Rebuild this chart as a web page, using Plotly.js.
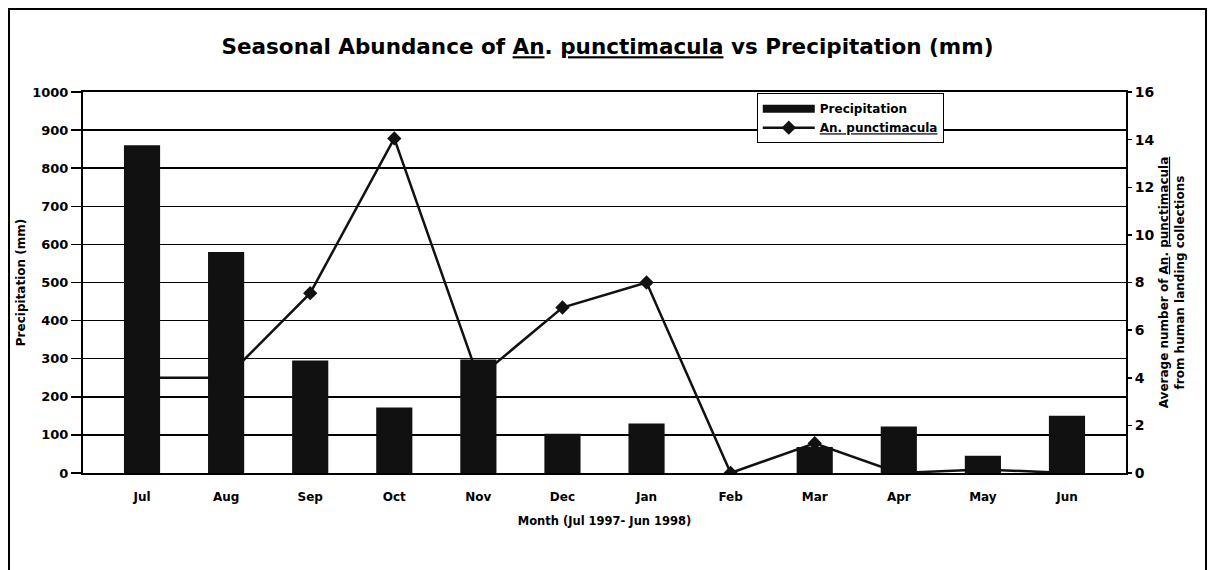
<!DOCTYPE html>
<html><head><meta charset="utf-8">
<script src="https://cdn.plot.ly/plotly-3.0.1.min.js"></script>
<style>
html,body{margin:0;padding:0;background:#fff;overflow:hidden;}
#frame{position:absolute;left:8px;top:8px;width:1199px;height:620px;border:2px solid #000;box-sizing:border-box;pointer-events:none;z-index:5;}
#chart{position:absolute;left:0;top:0;width:1215px;height:570px;}
</style></head>
<body>
<div id="chart"></div>
<div id="frame"></div>
<script>
const months = ["Jul","Aug","Sep","Oct","Nov","Dec","Jan","Feb","Mar","Apr","May","Jun"];
const precipitation = [860, 580, 295, 172, 298, 103, 130, 0, 68, 122, 45, 150];
const punctimacula = [4, 4, 7.55, 14.05, 4, 6.95, 8, 0, 1.25, 0, 0.15, 0];

const fontFam = '"DejaVu Sans", Verdana, sans-serif';

const lineTrace = {
  x: months, y: punctimacula, type: 'scatter', mode: 'lines+markers',
  name: '<u>An. punctimacula</u>', yaxis: 'y',
  line: {color: '#111', width: 2.5},
  marker: {symbol: 'diamond', size: 11, color: '#111'}
};
const barTrace = {
  x: months, y: precipitation, type: 'bar', name: 'Precipitation',
  yaxis: 'y2', marker: {color: '#111', line: {width: 0}}, width: 0.43,
  showlegend: false
};
// legend-only entry to mimic the wide filled swatch
const barLegend = {
  x: [null], y: [null], type: 'scatter', mode: 'lines', name: 'Precipitation',
  yaxis: 'y2', line: {color: '#111', width: 8}
};

const layout = {
  width: 1215, height: 570,
  margin: {l: 83, r: 89, t: 92, b: 97},
  paper_bgcolor: '#fff', plot_bgcolor: '#fff',
  font: {family: fontFam, color: '#000', size: 12, weight: 'bold'},
  title: {text: 'Seasonal Abundance of <u>An</u>. <u>punctimacula</u> vs Precipitation (mm)',
          font: {family: fontFam, size: 21.5, weight: 'bold', color: '#000'},
          x: 0.5, xanchor: 'center', y: 0.918, yanchor: 'middle'},
  showlegend: true,
  legend: {x: 0.646, y: 0.997, xanchor: 'left', yanchor: 'top', bgcolor: '#fff',
           bordercolor: '#000', borderwidth: 1, traceorder: 'normal', itemwidth: 52,
           font: {family: fontFam, size: 12, color: '#000', weight: 'bold'}, tracegroupgap: 0},
  xaxis: {type: 'category', showgrid: false, ticks: '', showline: true, linecolor: '#000', linewidth: 2,
          mirror: true, tickfont: {size: 12, weight: 'bold'}, ticklabelstandoff: 12,
          title: {text: 'Month (Jul 1997- Jun 1998)', font: {size: 11.5, weight: 'bold'}, standoff: 14}},
  yaxis: {side: 'right', range: [0, 16], dtick: 2, showgrid: false, zeroline: false,
          ticks: 'outside', ticklen: 4, tickwidth: 1.5, tickcolor: '#000',
          showline: true, linecolor: '#000', linewidth: 2,
          tickfont: {size: 14, weight: 'bold'},
          title: {text: 'Average number of <u>An</u>. <u>punctimacula</u><br>from human landing collections',
                  font: {size: 12, weight: 'bold'}, standoff: 6}},
  yaxis2: {side: 'left', overlaying: 'y', range: [0, 1000], dtick: 100,
           showgrid: true, gridcolor: '#000', gridwidth: 1.5, zeroline: false,
           ticks: 'outside', ticklen: 10, tickwidth: 1.5, tickcolor: '#000',
           showline: true, linecolor: '#000', linewidth: 2,
           tickfont: {size: 13, weight: 'bold'},
           title: {text: 'Precipitation (mm)', font: {size: 12, weight: 'bold'}, standoff: 4}}
};

Plotly.newPlot('chart', [barLegend, lineTrace, barTrace], layout, {displayModeBar: false, staticPlot: true});
</script>
</body></html>
